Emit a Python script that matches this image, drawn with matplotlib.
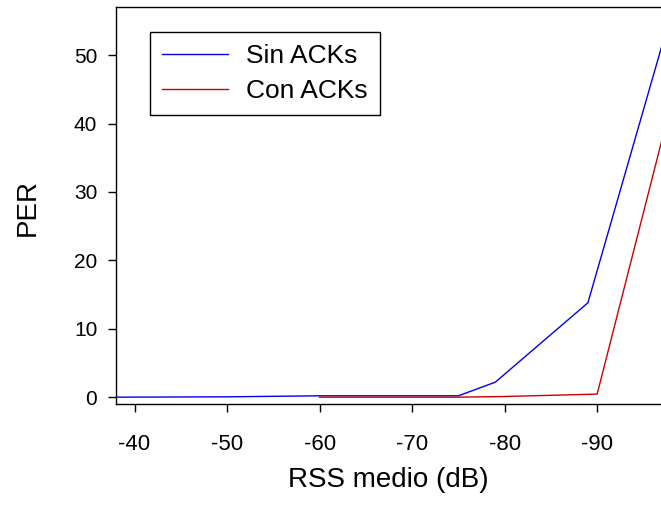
import numpy as np
import matplotlib
matplotlib.use('Agg')
import matplotlib.pyplot as plt

plt.rcParams['font.family'] = 'Liberation Sans'
plt.rcParams['axes.unicode_minus'] = False

# RSS medio (dB) vs PER
rss_sin = [-38, -50, -60, -70, -75, -79, -89, -97]
per_sin = [0.0, 0.05, 0.2, 0.2, 0.2, 2.2, 13.8, 51.4]

rss_con = [-60, -70, -75, -80, -90, -97]
per_con = [0.0, 0.0, 0.0, 0.1, 0.45, 37.6]

xticks = [-40, -50, -60, -70, -80, -90]
yticks = [0, 10, 20, 30, 40, 50]

fig = plt.figure(figsize=(6.61, 5.08), dpi=100)
ax1 = fig.add_axes([0.1755, 0.2047, 0.8245, 0.7809])

ax1.plot(rss_sin, per_sin, '-', color='#0000ee', linewidth=1.0, label='Sin ACKs')
ax1.plot(rss_con, per_con, '-', color='#cc0000', linewidth=1.0, label='Con ACKs')

ax1.set_xlim(-38, -96.9)
ax1.set_ylim(-1, 57)
ax1.set_xticks(xticks)
ax1.set_yticks(yticks)
ax1.tick_params(direction='out', length=5.5, width=1)
ax1.tick_params(axis='x', pad=16, labelsize=16)
ax1.tick_params(axis='y', pad=8, labelsize=15)
ax1.spines['right'].set_visible(False)
for s in ['left', 'bottom', 'top']:
    ax1.spines[s].set_linewidth(1)

ax1.set_xlabel('RSS medio (dB)', fontsize=20)
ax1.set_ylabel('PER', fontsize=20)
ax1.xaxis.set_label_coords(0.5, -0.160)
ax1.yaxis.set_label_coords(-0.139, 0.495)

leg = ax1.legend(loc='upper left', bbox_to_anchor=(0.0624, 0.937), borderaxespad=0,
                 fontsize=19, handlelength=2.5, handletextpad=0.7, borderpad=0.45,
                 labelspacing=0.42, fancybox=False, framealpha=1)
leg.get_frame().set_edgecolor('black')
leg.get_frame().set_linewidth(1)

plt.savefig('out.png', dpi=100)
